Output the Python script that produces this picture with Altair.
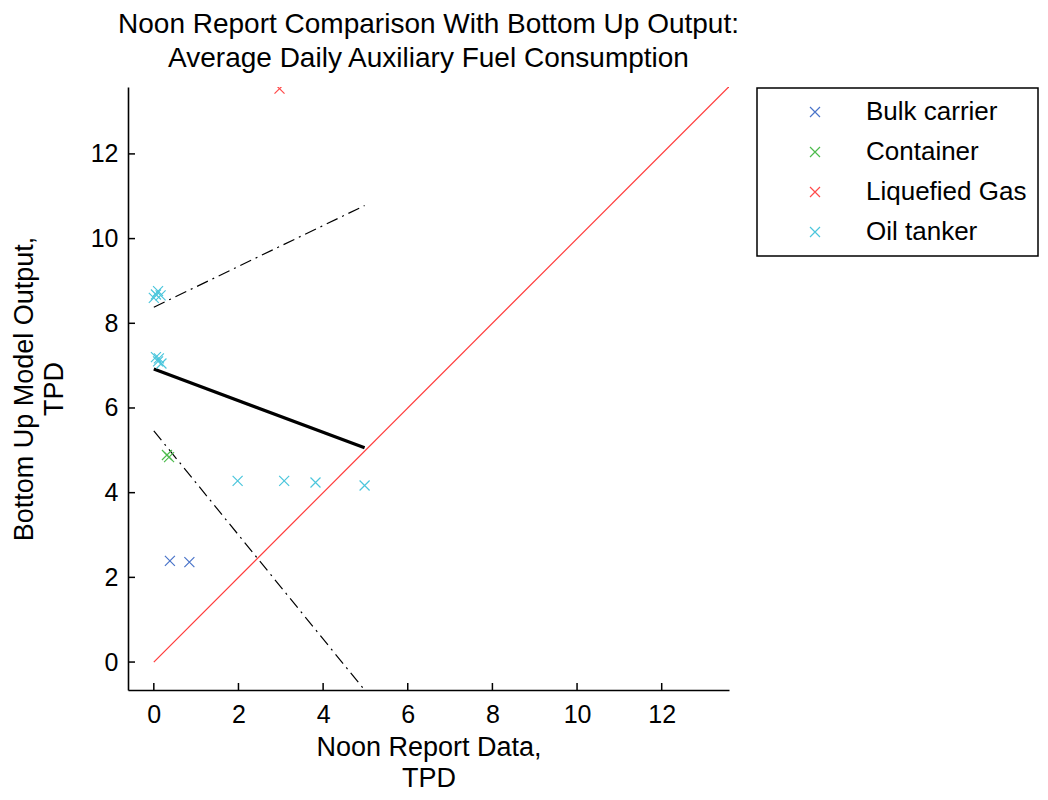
import altair as alt
import pandas as pd

# ---- data ----
categories = ["Bulk carrier", "Container", "Liquefied Gas", "Oil tanker"]
colors = ["#4a74c9", "#4cbb4c", "#ff4a4a", "#4cc6dc"]

bulk_x = [0.38, 0.84]
bulk_y = [2.39, 2.36]
cont_x = [0.31, 0.36]
cont_y = [4.89, 4.84]
lng_x = [2.97]
lng_y = [13.54]
oil_x = [0.00, 0.05, 0.10, 0.16, 0.05, 0.12, 0.18, 0.10, 1.98, 3.08, 3.82, 4.98]
oil_y = [8.60, 8.68, 8.76, 8.66, 7.20, 7.17, 7.05, 7.10, 4.28, 4.28, 4.24, 4.17]

fit_x = [0.0, 4.98]
fit_y = [6.92, 5.06]
upper_y = [8.38, 10.78]
lower_y = [5.46, -0.66]
ref_x = [0.0, 13.59]

x_domain = [-0.61, 13.59]
y_domain = [-0.66, 13.58]
ticks = [0, 2, 4, 6, 8, 10, 12]

FONT = "Liberation Sans"
XPATH = "M-1,-1L1,1M-1,1L1,-1"
W, H = 601, 603
TICK_LEN = 7

pts = pd.DataFrame(
    {
        "x": bulk_x + cont_x + lng_x + oil_x,
        "y": bulk_y + cont_y + lng_y + oil_y,
        "type": [categories[0]] * len(bulk_x)
        + [categories[1]] * len(cont_x)
        + [categories[2]] * len(lng_x)
        + [categories[3]] * len(oil_x),
    }
)
ref_df = pd.DataFrame({"x": ref_x, "y": ref_x})
fit_df = pd.DataFrame({"x": fit_x, "y": fit_y})
band_df = pd.DataFrame(
    {
        "x": fit_x + fit_x,
        "y": upper_y + lower_y,
        "band": ["upper", "upper", "lower", "lower"],
    }
)
tick_df = pd.DataFrame({"x": ticks, "y": ticks})

xs = alt.Scale(domain=x_domain, nice=False, zero=False)
ys = alt.Scale(domain=y_domain, nice=False, zero=False)

X_AXIS = alt.Axis(
    orient="bottom",
    values=ticks,
    ticks=False,
    grid=False,
    domainColor="black",
    domainWidth=1.6,
    labelFont=FONT,
    labelFontSize=25,
    labelColor="black",
    labelPadding=12,
    title=["Noon Report Data,", "TPD"],
    titleFont=FONT,
    titleFontSize=27,
    titleFontWeight="normal",
    titleColor="black",
    titleLineHeight=31,
    titlePadding=7,
)
Y_AXIS = alt.Axis(
    orient="left",
    values=ticks,
    ticks=False,
    grid=False,
    domainColor="black",
    domainWidth=1.6,
    labelFont=FONT,
    labelFontSize=25,
    labelColor="black",
    labelPadding=10,
    title=["Bottom Up Model Output,", "TPD"],
    titleFont=FONT,
    titleFontSize=27,
    titleFontWeight="normal",
    titleColor="black",
    titleLineHeight=30,
    titlePadding=22,
)


def X():
    return alt.X("x:Q", scale=xs, axis=X_AXIS)


def Y():
    return alt.Y("y:Q", scale=ys, axis=Y_AXIS)


ref_line = alt.Chart(ref_df).mark_line(color="#ff3b3b", strokeWidth=1.2, clip=True).encode(
    x=X(), y=Y()
)

band_lines = alt.Chart(band_df).mark_line(
    color="black", strokeWidth=1.2, strokeDash=[12, 5, 2, 5], clip=True
).encode(x=X(), y=Y(), detail="band:N")

fit_line = alt.Chart(fit_df).mark_line(color="black", strokeWidth=3.2, clip=True).encode(
    x=X(), y=Y()
)

# inward tick marks: positions through the scales, length in pixels
x_ticks = alt.Chart(tick_df).mark_rule(color="black", strokeWidth=1.5).encode(
    x=X(),
    y=alt.value(H),
    y2=alt.value(H - TICK_LEN),
)
y_ticks = alt.Chart(tick_df).mark_rule(color="black", strokeWidth=1.5).encode(
    y=Y(),
    x=alt.value(0),
    x2=alt.value(TICK_LEN),
)

points = alt.Chart(pts).mark_point(
    shape=XPATH, filled=False, size=100, strokeWidth=1.2, opacity=1, clip=True
).encode(
    x=X(),
    y=Y(),
    color=alt.Color(
        "type:N",
        scale=alt.Scale(domain=categories, range=colors),
        legend=alt.Legend(
            title=None,
            orient="none",
            legendX=629,
            legendY=1,
            strokeColor="black",
            fillColor="white",
            padding=11,
            symbolType=XPATH,
            symbolSize=100,
            symbolStrokeWidth=1.2,
            symbolOffset=34,
            labelOffset=38,
            labelFont=FONT,
            labelFontSize=26,
            labelLimit=400,
            labelColor="black",
            rowPadding=14,
        ),
    ),
)

chart = (
    alt.layer(ref_line, band_lines, fit_line, x_ticks, y_ticks, points)
    .properties(
        width=W,
        height=H,
        autosize=alt.AutoSizeParams(type="none"),
        padding={"left": 120, "top": 79, "right": 311, "bottom": 102},
        title=alt.Title(
            ["Noon Report Comparison With Bottom Up Output:", "Average Daily Auxiliary Fuel Consumption"],
            font=FONT,
            fontSize=28,
            fontWeight="normal",
            color="black",
            anchor="middle",
            lineHeight=34,
            offset=14,
        ),
    )
    .configure(background="white")
    .configure_view(stroke=None)
    .configure_legend(strokeWidth=1.5)
)

chart.save("out.html", embed_options={"renderer": "svg", "actions": False})
